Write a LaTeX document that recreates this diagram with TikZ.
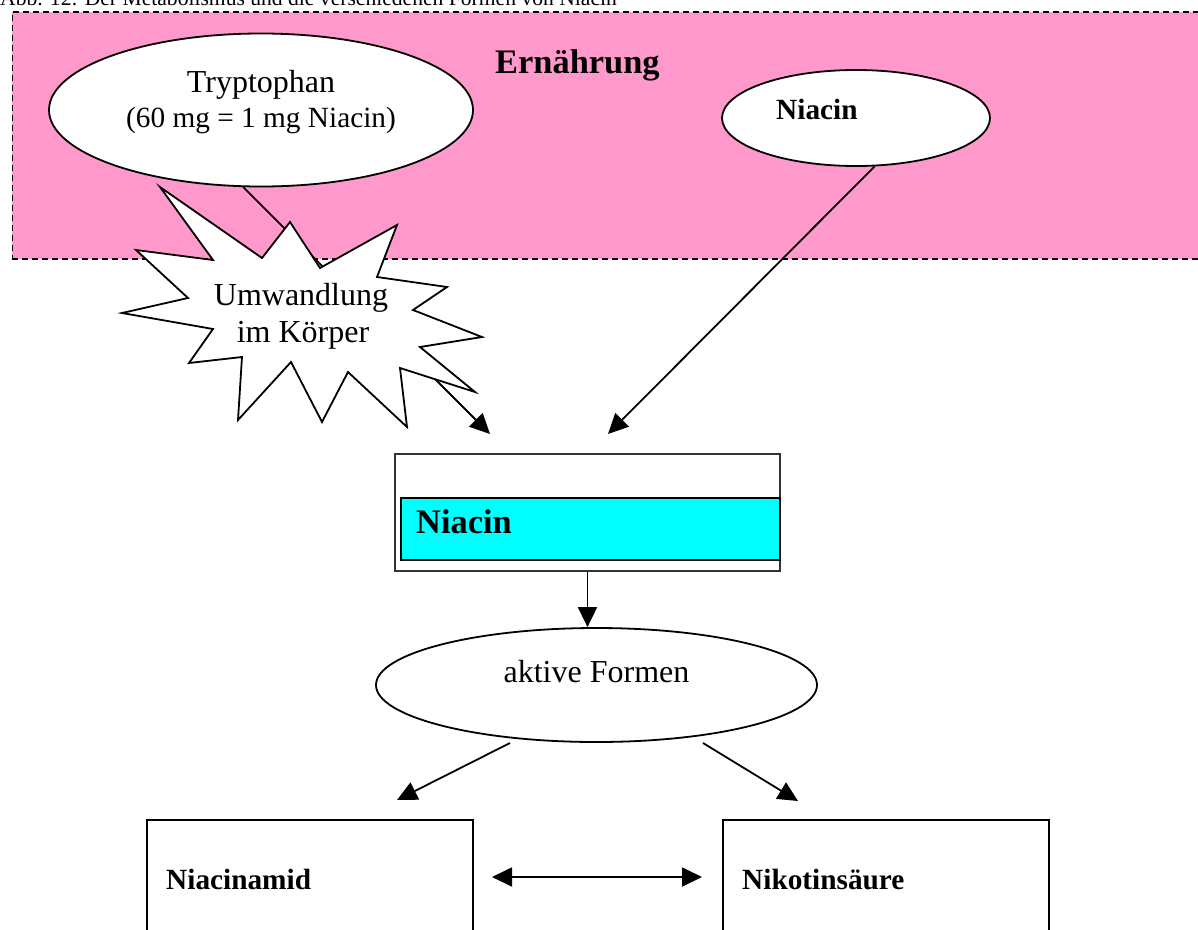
\documentclass[tikz,border=0pt]{standalone}
\usepackage{fontspec}
\setmainfont{Liberation Serif}
\usetikzlibrary{shapes.geometric,arrows.meta}
\definecolor{pinkc}{HTML}{FF99CC}
\definecolor{cyanc}{HTML}{00FFFF}
\definecolor{boxgray}{HTML}{333333}
\begin{document}
\begin{tikzpicture}[x=1pt,y=-1pt,
  ell/.style={ellipse,draw,fill=white,line width=1.8pt,inner sep=0pt},
  arr/.style={line width=1.8pt,-{Triangle[length=20pt,width=19pt]}},
  dblarr/.style={line width=1.8pt,{Triangle[length=20pt,width=19pt]}-{Triangle[length=20pt,width=19pt]}},
  txt/.style={inner sep=0pt,anchor=base},
  bigreg/.style={font=\fontsize{32}{38}\selectfont},
  midreg/.style={font=\fontsize{29.3}{35}\selectfont},
  midbold/.style={font=\fontsize{29.3}{35}\selectfont\bfseries},
  bigbold/.style={font=\fontsize{34.4}{40}\selectfont\bfseries},
  plainbox/.style={rectangle,draw,line width=1.8pt,inner sep=0pt,anchor=north west},
  burst/.style={draw,fill=white,line width=1.8pt,line join=miter}]
\clip (0,0) rectangle (1198,929);
\fill[white] (0,0) rectangle (1198,929);
% caption (cut off at top, as in the reference)
\node[inner sep=0pt,anchor=base west,font=\fontsize{21.6}{26}\selectfont] (cap) at (0,5) {Abb. 12: Der Metabolismus und die verschiedenen Formen von Niacin};
% Ernaehrung region
\node[rectangle,draw,fill=pinkc,line width=1.8pt,dash pattern=on 6pt off 4pt,inner sep=0pt,anchor=north west,minimum width=1200pt,minimum height=247pt] (region) at (11.5,11) {};
\node[txt,anchor=base west,bigbold] (ern) at (495,73) {Ernährung};
% ellipses
\node[ell,minimum width=424pt,minimum height=153pt] (tryp) at (261,110) {};
\node[txt,bigreg] (tryp1) at (261,92) {Tryptophan};
\node[txt,midreg] (tryp2) at (261,127) {(60 mg = 1 mg Niacin)};
\node[ell,minimum width=268pt,minimum height=96pt] (nia) at (856,118) {};
\node[txt,anchor=base west,midbold] (niat) at (776,119) {Niacin};
% free ends
\coordinate (t1) at (490,434);
\coordinate (n1) at (608,434);
\coordinate (af1) at (510,743);
\coordinate (af2) at (703,743);
\coordinate (a1) at (397,800);
\coordinate (a2) at (798,801);
\coordinate (d1) at (492,877);
\coordinate (d2) at (702,877);
% arrows into Niacin box
\draw[arr] (tryp.-103.3) -- (t1);
\draw[arr] (nia.-69) -- (n1);
% starburst
\draw[burst] (160,187) -- (262,258) -- (290,222) -- (320,268) -- (397,225) -- (377,277) -- (447,287) -- (413,310) -- (482,337) -- (420,347) -- (475,392) -- (400,368) -- (407,427) -- (348,372) -- (322,422) -- (291,362) -- (238,420) -- (242,357) -- (189,363) -- (213,329) -- (122,313) -- (188,298) -- (136,250) -- (213,260) -- cycle;
\node[txt,bigreg] (umw1) at (301,305) {Umwandlung};
\node[txt,bigreg] (umw2) at (303,342) {im Körper};
% Niacin box
\node[rectangle,draw=boxgray,line width=1.3pt,fill=white,inner sep=0pt,minimum width=385pt,minimum height=117pt] (nbox) at (587.5,512.5) {};
\node[rectangle,draw,fill=cyanc,line width=2.2pt,inner sep=0pt,anchor=north west,minimum width=379pt,minimum height=62pt] (cbox) at (400,497) {};
\node[txt,anchor=base west,bigbold] (cboxt) at (416,533) {Niacin};
% aktive Formen
\node[ell,minimum width=441pt,minimum height=114pt] (akt) at (596.5,685) {};
\node[txt,bigreg] (aktt) at (596.5,682) {aktive Formen};
\draw[arr] (nbox.south) -- (nbox.south |- akt.north);
% bottom boxes
\node[plainbox,minimum width=326pt,minimum height=160pt] (namid) at (146,819) {};
\node[txt,anchor=base west,midbold] (namidt) at (166,889) {Niacinamid};
\node[plainbox,minimum width=326pt,minimum height=160pt] (nikot) at (722,819) {};
\node[txt,anchor=base west,midbold] (nikott) at (742,889) {Nikotinsäure};
\draw[arr] (af1) -- (a1);
\draw[arr] (af2) -- (a2);
\draw[dblarr] (d1) -- (d2);
\end{tikzpicture}
\end{document}
